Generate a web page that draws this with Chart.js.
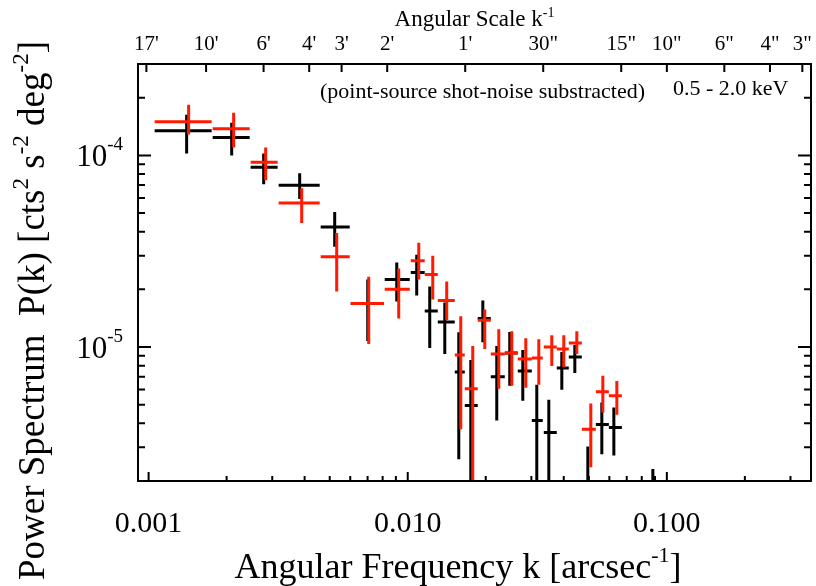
<!DOCTYPE html>
<html>
<head>
<meta charset="utf-8">
<script src="https://cdn.jsdelivr.net/npm/chart.js@4.4.0/dist/chart.umd.min.js"></script>
<style>
  html, body { margin: 0; padding: 0; background: #fff; }
  #wrap { width: 816px; height: 586px; position: relative; }
</style>
</head>
<body>
<div id="wrap"><canvas id="psChart" width="816" height="586"></canvas></div>
<script>
// k bins [arcsec^-1] (horizontal error bars)
const binLo = [0.001055, 0.001767, 0.002476, 0.003176, 0.004614, 0.006026, 0.00815, 0.01027, 0.01163, 0.01306, 0.01519, 0.0166,
               0.01863, 0.02092, 0.02369, 0.02659, 0.03012, 0.0335, 0.0376, 0.04184, 0.04697, 0.0532, 0.05972, 0.0837];
const binHi = [0.001751, 0.002455, 0.003148, 0.004573, 0.005972, 0.008078, 0.01018, 0.01163, 0.01306, 0.01519, 0.0166, 0.01863,
               0.02092, 0.02369, 0.02659, 0.03012, 0.0332, 0.0376, 0.04184, 0.04697, 0.0532, 0.05972, 0.06705, 0.094];

// black series, P(k) in units of 1e-6 cts^2 s^-2 deg^-2
const blackK  = [0.001402, 0.002092, 0.00278, 0.003828, 0.005226, 0.007009, 0.00907, 0.01083, 0.01216, 0.0139, 0.01574, 0.01751,
                 0.01949, 0.02206, 0.02476, 0.0278, 0.03148, 0.03503, 0.03932, 0.04414, 0.04955, 0.05611, 0.06244, 0.0883];
const blackP  = [134.7, 124.0, 86.7, 69.9, 42.3, 16.9, 22.5, 24.5, 15.4, 13.5, 7.42, 4.95,
                 14.1, 6.99, 9.31, 7.51, 4.14, 3.58, 7.78, 8.87, 1.2, 3.94, 3.80, 1.0];
const blackLo = [102.4, 100.0, 70.8, 59.2, 33.4, 10.74, 17.3, 18.6, 9.88, 9.20, 2.60, 1.0,
                 10.61, 4.14, 6.28, 5.25, 1.0, 1.0, 5.99, 7.33, 0.8, 2.76, 2.72, 0.8];
const blackHi = [163.1, 148.3, 102.4, 80.7, 50.7, 22.5, 27.6, 30.3, 20.7, 17.1, 11.96, 8.56,
                 17.5, 10.12, 12.0, 9.65, 6.35, 5.31, 9.42, 10.24, 3.03, 5.13, 4.83, 2.31];

// red series
const redK  = [0.001427, 0.002129, 0.00283, 0.003897, 0.00532, 0.00707, 0.00923, 0.01103, 0.01249, 0.01414, 0.01602, 0.01782,
               0.01983, 0.02246, 0.02521, 0.02855, 0.03205, 0.03597, 0.04002, 0.04493, 0.05088, 0.05661, 0.06412];
const redP  = [150.1, 138.0, 92.0, 56.4, 29.6, 16.9, 20.0, 28.2, 23.9, 17.5, 9.09, 6.06,
               13.8, 9.20, 9.31, 8.67, 8.77, 10.0, 9.76, 10.49, 3.72, 5.84, 5.57];
const redLo = [128.5, 110.0, 74.2, 44.4, 19.5, 10.36, 14.1, 22.5, 17.7, 13.8, 3.72, 1.0,
               9.76, 6.06, 6.28, 6.13, 6.35, 7.97, 7.88, 9.20, 2.36, 4.55, 4.44];
const redHi = [183.7, 167.0, 110.0, 67.4, 39.4, 23.3, 25.7, 35.0, 30.0, 22.0, 14.5, 10.12,
               15.7, 12.4, 12.1, 11.13, 11.0, 11.54, 11.54, 12.1, 5.07, 7.08, 6.66];

// axes
const xTicks = [0.001, 0.01, 0.1];
const xTickLabels = ['0.001', '0.010', '0.100'];
const yTicks = [1e-4, 1e-5];
const yTickExp = ['-4', '-5'];
const topArcsec = [1020, 600, 360, 240, 180, 120, 60, 30, 15, 10, 6, 4, 3];
const topTickLabels = ["17'", "10'", "6'", "4'", "3'", "2'", "1'", '30"', '15"', '10"', '6"', '4"', '3"'];

const SERIF = '"Liberation Serif", "DejaVu Serif", serif';
const UNIT = 1e-6;

function buildPoints(k, p, lo, hi) {
  return k.map((v, i) => ({
    x: v, y: p[i] * UNIT,
    xMin: binLo[i], xMax: binHi[i],
    yMin: lo[i] * UNIT, yMax: hi[i] * UNIT
  }));
}

// draw text with superscript parts: parts = [[text, isSup], ...]
function richWidth(ctx, parts, size, supSize) {
  let w = 0;
  parts.forEach(([t, sup]) => {
    ctx.font = `${sup ? supSize : size}px ${SERIF}`;
    w += ctx.measureText(t).width;
  });
  return w;
}
function drawRich(ctx, parts, x, y, align, size, supSize, rise) {
  const w = richWidth(ctx, parts, size, supSize);
  let cx = align === 'center' ? x - w / 2 : (align === 'right' ? x - w : x);
  ctx.textAlign = 'left';
  ctx.textBaseline = 'alphabetic';
  parts.forEach(([t, sup]) => {
    ctx.font = `${sup ? supSize : size}px ${SERIF}`;
    ctx.fillText(t, cx, sup ? y - rise : y);
    cx += ctx.measureText(t).width;
  });
}

const errorBars = {
  id: 'errorBars',
  afterDatasetsDraw(chart) {
    const {ctx, chartArea: a, scales: {x, y}} = chart;
    ctx.save();
    ctx.beginPath();
    ctx.rect(a.left, a.top, a.right - a.left, a.bottom - a.top);
    ctx.clip();
    chart.data.datasets.forEach(ds => {
      ctx.strokeStyle = ds.borderColor;
      ctx.lineWidth = 3;
      ds.data.forEach(p => {
        const px = x.getPixelForValue(p.x);
        const py = y.getPixelForValue(p.y);
        ctx.beginPath();
        ctx.moveTo(x.getPixelForValue(p.xMin), py);
        ctx.lineTo(x.getPixelForValue(p.xMax), py);
        ctx.moveTo(px, y.getPixelForValue(p.yMax));
        ctx.lineTo(px, y.getPixelForValue(p.yMin));
        ctx.stroke();
      });
    });
    ctx.restore();
  }
};

const frameAndText = {
  id: 'frameAndText',
  afterDraw(chart) {
    const {ctx, chartArea: a, scales: {x, y, x2}} = chart;
    ctx.save();
    ctx.strokeStyle = '#000';
    ctx.fillStyle = '#000';
    ctx.lineWidth = 2;
    ctx.strokeRect(a.left, a.top, a.right - a.left, a.bottom - a.top);

    // inward tick marks
    ctx.beginPath();
    for (let d = -4; d <= 0; d++) {
      for (let m = 1; m <= 9; m++) {
        const v = m * Math.pow(10, d);
        if (v >= x.min && v <= x.max) {
          const px = x.getPixelForValue(v);
          const len = m === 1 ? 9 : 5;
          ctx.moveTo(px, a.bottom); ctx.lineTo(px, a.bottom - len);
        }
      }
    }
    for (let d = -7; d <= -3; d++) {
      for (let m = 1; m <= 9; m++) {
        const v = m * Math.pow(10, d);
        if (v >= y.min && v <= y.max) {
          const py = y.getPixelForValue(v);
          const len = m === 1 ? 13 : 7;
          ctx.moveTo(a.left, py); ctx.lineTo(a.left + len, py);
          ctx.moveTo(a.right, py); ctx.lineTo(a.right - len, py);
        }
      }
    }
    topArcsec.forEach(s => {
      const px = x2.getPixelForValue(1 / s);
      ctx.moveTo(px, a.top); ctx.lineTo(px, a.top + 8);
    });
    ctx.stroke();

    // y tick labels 10^n
    yTicks.forEach((v, i) => {
      const py = y.getPixelForValue(v);
      drawRich(ctx, [['10', false], [yTickExp[i], true]], 123, py + 11, 'right', 31, 19, 16);
    });

    // axis titles
    drawRich(ctx, [['Angular Scale k', false], ['-1', true]], (a.left + a.right) / 2, 26, 'center', 23, 14, 9);
    drawRich(ctx, [['Angular Frequency k [arcsec', false], ['-1', true], [']', false]], 458, 578, 'center', 36, 22, 16);

    ctx.save();
    ctx.translate(44, 580);
    ctx.rotate(-Math.PI / 2);
    drawRich(ctx, [['Power Spectrum  P(k) [cts', false], ['2', true], [' s', false], ['-2', true],
                   [' deg', false], ['-2', true], [']', false]], 0, 0, 'left', 37, 23, 16);
    ctx.restore();

    // annotations
    drawRich(ctx, [['(point-source shot-noise substracted)', false]], 320, 98, 'left', 22, 13, 8);
    drawRich(ctx, [['0.5 - 2.0 keV', false]], 673, 95, 'left', 22, 13, 8);
    ctx.restore();
  }
};

new Chart(document.getElementById('psChart'), {
  type: 'scatter',
  data: {
    datasets: [
      { label: 'black', data: buildPoints(blackK, blackP, blackLo, blackHi), borderColor: '#000000', backgroundColor: '#000000', pointRadius: 0 },
      { label: 'red', data: buildPoints(redK, redP, redLo, redHi), borderColor: '#ff1a00', backgroundColor: '#ff1a00', pointRadius: 0 }
    ]
  },
  options: {
    responsive: false,
    animation: false,
    devicePixelRatio: 1,
    layout: { padding: { left: 0, right: 5, top: 0, bottom: 0 } },
    plugins: { legend: { display: false }, tooltip: { enabled: false } },
    scales: {
      x: {
        type: 'logarithmic', position: 'bottom', min: 0.00091, max: 0.36,
        grid: { display: false }, border: { display: false },
        afterBuildTicks: s => { s.ticks = xTicks.map(v => ({ value: v })); },
        afterFit: s => { s.height = 105; },
        ticks: {
          autoSkip: false, maxRotation: 0, padding: 17, color: '#000',
          font: { family: SERIF, size: 30 },
          callback: (v, i) => xTickLabels[i]
        }
      },
      x2: {
        type: 'logarithmic', position: 'top', min: 0.00091, max: 0.36,
        grid: { display: false }, border: { display: false },
        afterBuildTicks: s => { s.ticks = topArcsec.map(a => ({ value: 1 / a })); },
        afterFit: s => { s.height = 64; },
        ticks: {
          autoSkip: false, maxRotation: 0, padding: -1, color: '#000',
          font: { family: SERIF, size: 21 },
          callback: (v, i) => topTickLabels[i]
        }
      },
      y: {
        type: 'logarithmic', position: 'left', min: 2e-6, max: 3e-4,
        grid: { display: false }, border: { display: false },
        afterFit: s => { s.width = 138; },
        ticks: { display: false }
      }
    }
  },
  plugins: [errorBars, frameAndText]
});
</script>
</body>
</html>
